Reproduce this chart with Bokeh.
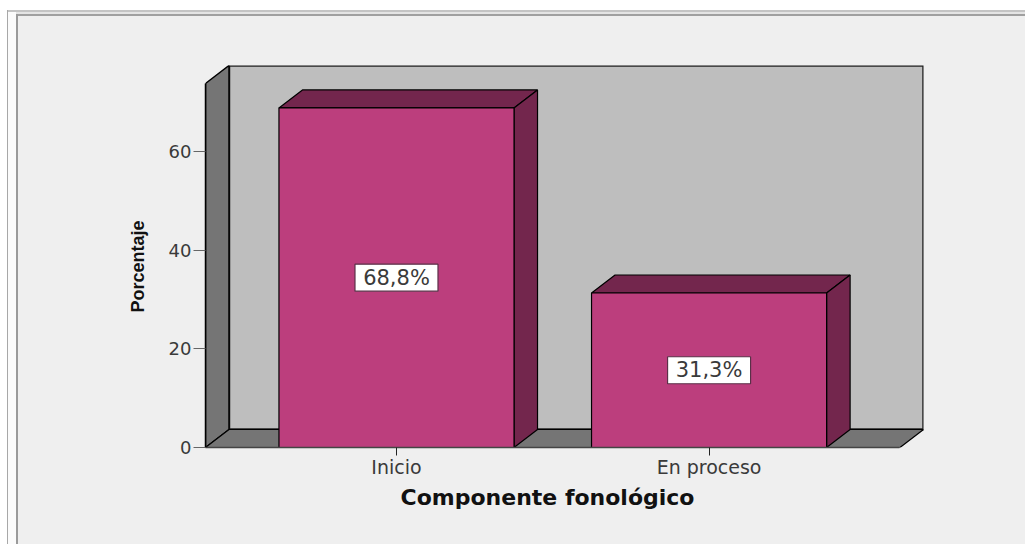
from bokeh.plotting import figure
from bokeh.embed import file_html
from bokeh.resources import INLINE
from bokeh.models import FixedTicker, Title, Range1d
from bokeh.core.properties import value

categories = ["Inicio", "En proceso"]
positions = [1, 2]
percentages = [68.8, 31.3]
bar_labels = ["68,8%", "31,3%"]
y_ticks = [0, 20, 40, 60]
x_title = "Componente fonológico"
y_title = "Porcentaje"

PANEL = "#efefef"; WALL = "#bebebe"; SIDE = "#757575"
BAR = "#bc3e7d"; BAR_DARK = "#73264d"; INK = "#000000"; TXT = "#3a3a3a"
BAR_W = 0.752; DX = 0.0752; DY = 3.65
X0, X1 = 0.389, 2.686
Y1 = 77.4
AXIS_END = Y1 - DY
FLOOR_END = X1 - DX

# window-like frame of the screenshot, painted behind the transparent canvas
layers = [
    ("#ffffff", "0 0", "100% 10px"),
    ("#ffffff", "0 0", "7px 100%"),
    ("#a8a8a8", "7px 10px", "1px 100%"),
    ("#c4c4c4", "7px 10px", "100% 2px"),
    ("#9a9a9a", "16px 14px", "2px 100%"),
    ("#a0a0a0", "16px 14px", "100% 2px"),
    ("#fbfbfb", "8px 12px", "8px 100%"),
    ("#e4e4e4", "8px 12px", "100% 2px"),
]
bg = ",".join(f"linear-gradient({c},{c}) {pos}/{size} no-repeat" for c, pos, size in layers) + "," + PANEL

p = figure(width=1025, height=544, frame_width=718, frame_height=382,
           min_border_left=205, min_border_right=102, min_border_top=65, min_border_bottom=97,
           x_range=Range1d(X0, X1), y_range=Range1d(0, Y1),
           output_backend="svg", toolbar_location=None,
           styles={"background": bg})
p.background_fill_color = PANEL
p.border_fill_color = None
p.outline_line_color = None
p.grid.visible = False

# walls and floor
p.quad(left=X0 + DX, right=X1, bottom=DY, top=Y1, fill_color=WALL, line_color="#222222", line_width=2.5)
p.patch([X0, X0 + DX, X0 + DX, X0], [0, DY, Y1, AXIS_END], fill_color=SIDE, line_color=INK, line_width=1.5)
p.patch([X0, X0 + DX, X1, FLOOR_END], [0, DY, DY, 0], fill_color=SIDE, line_color=INK, line_width=1.2)

# bars
for c, v in zip(positions, percentages):
    l = c - BAR_W / 2
    r = c + BAR_W / 2
    p.patch([l, l + DX, r + DX, r], [v, v + DY, v + DY, v], fill_color=BAR_DARK, line_color=INK, line_width=1.2)
    p.patch([r, r + DX, r + DX, r], [0, DY, v + DY, v], fill_color=BAR_DARK, line_color=INK, line_width=1.2)
    p.quad(left=l, right=r, bottom=0, top=v, fill_color=BAR, line_color=INK, line_width=1.2)

mid = [v / 2 for v in percentages]
p.rect(x=positions, y=mid, width=83, height=27, width_units="screen", height_units="screen",
       fill_color="#ffffff", line_color="#5a3048", line_width=1.2)
p.text(x=positions, y=mid, text=bar_labels, text_align="center", text_baseline="middle",
       text_font=value("DejaVu Sans"), text_font_size="21px", text_color=TXT)

# axes
ax = p.xaxis[0]
ax.ticker = FixedTicker(ticks=positions)
ax.major_label_overrides = dict(zip(positions, categories))
ax.bounds = (X0, FLOOR_END)
ax.major_tick_in = 0; ax.major_tick_out = 8; ax.minor_tick_line_color = None
ax.major_tick_line_color = "#222222"; ax.axis_line_color = "#444444"; ax.axis_line_width = 1.5
ax.major_label_standoff = 0
ax.major_label_text_font = "DejaVu Sans"; ax.major_label_text_font_size = "19px"; ax.major_label_text_color = TXT

ay = p.yaxis[0]
ay.ticker = FixedTicker(ticks=y_ticks)
ay.bounds = (0, AXIS_END)
ay.major_tick_in = 0; ay.major_tick_out = 12; ay.minor_tick_line_color = None
ay.major_tick_line_color = "#666666"; ay.axis_line_color = INK; ay.axis_line_width = 1.5
ay.major_label_standoff = 2
ay.major_label_text_font = "DejaVu Sans"; ay.major_label_text_font_size = "18px"; ay.major_label_text_color = TXT

p.add_layout(Title(text=x_title, align="left", offset=195, standoff=5, text_font="DejaVu Sans", text_font_style="bold",
                   text_font_size="22px", text_color="#111111"), "below")
p.add_layout(Title(text=y_title, align="left", offset=135, standoff=35, text_font="Liberation Sans", text_font_style="bold",
                   text_font_size="18px", text_color="#111111"), "left")

open("out.html", "w").write(file_html(p, INLINE))
